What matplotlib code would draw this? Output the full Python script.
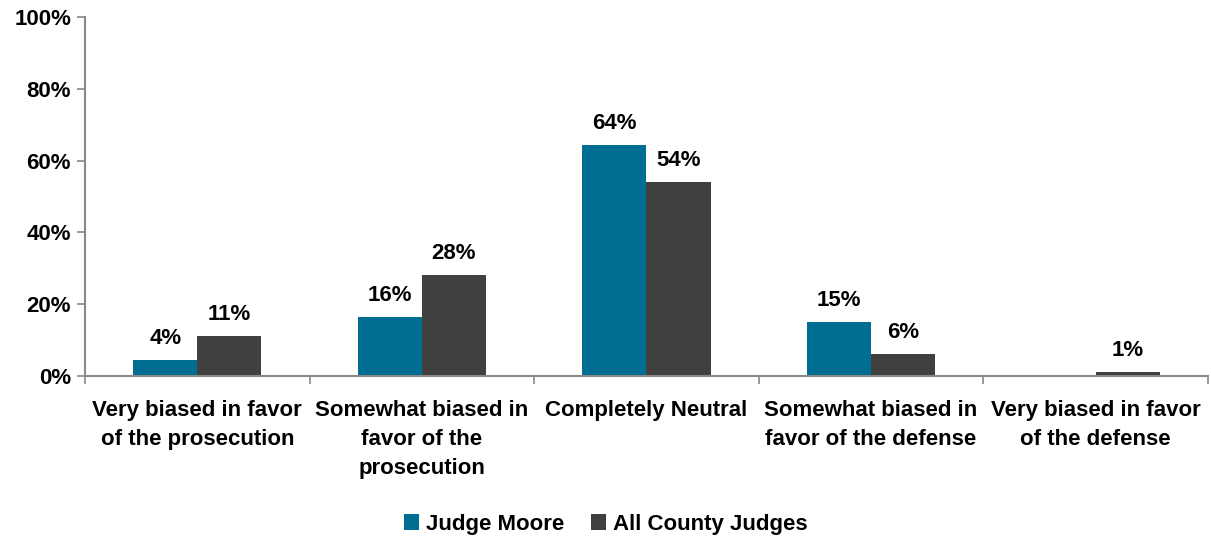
import numpy as np
import matplotlib
matplotlib.use("Agg")
import matplotlib.pyplot as plt
from matplotlib.ticker import FuncFormatter

plt.rcParams['font.family'] = ['Liberation Sans', 'DejaVu Sans']
plt.rcParams['font.weight'] = 'bold'

categories = [
    "Very biased in favor\nof the prosecution",
    "Somewhat biased in\nfavor of the\nprosecution",
    "Completely Neutral",
    "Somewhat biased in\nfavor of the defense",
    "Very biased in favor\nof the defense",
]
judge_moore = [4.4, 16.4, 64.2, 15.0, 0.0]
judge_moore_lbl = ["4%", "16%", "64%", "15%", ""]
all_county = [11.0, 28.0, 54.0, 6.0, 1.0]
all_county_lbl = ["11%", "28%", "54%", "6%", "1%"]

c_moore = "#006D92"
c_county = "#404040"

fig = plt.figure(figsize=(12.11, 5.44), dpi=100)
ax = fig.add_axes([0.0702, 0.309, 0.9273, 0.6598])

x = np.arange(len(categories))
w = 0.285
b1 = ax.bar(x - w / 2, judge_moore, w, color=c_moore, label="Judge Moore")
b2 = ax.bar(x + w / 2, all_county, w, color=c_county, label="All County Judges")

for bars, labels in ((b1, judge_moore_lbl), (b2, all_county_lbl)):
    for rect, lbl in zip(bars, labels):
        if not lbl:
            continue
        ax.annotate(lbl, (rect.get_x() + rect.get_width() / 2, rect.get_height()),
                    xytext=(0, 8), textcoords="offset points",
                    ha="center", va="bottom", fontsize=16, fontweight="bold")

ax.set_xlim(-0.5, len(categories) - 0.5)
ax.set_ylim(0, 100)
ax.set_yticks(np.arange(0, 101, 20))
ax.yaxis.set_major_formatter(FuncFormatter(lambda v, p: f"{v:.0f}%"))

# category labels centred, tick marks on the boundaries
ax.set_xticks(x)
ax.set_xticklabels(categories, fontsize=16, fontweight="bold", linespacing=1.5)
ax.tick_params(axis="x", which="major", length=0, pad=17)
ax.set_xticks(np.arange(-0.5, len(categories) + 0.5, 1), minor=True)
ax.tick_params(axis="x", which="minor", length=6, width=1.2, color="#898989", direction="out")
ax.tick_params(axis="y", length=6, width=1.2, color="#898989", direction="out",
               labelsize=16, pad=4)
for t in ax.get_yticklabels():
    t.set_fontweight("bold")

for s in ("top", "right"):
    ax.spines[s].set_visible(False)
for s in ("left", "bottom"):
    ax.spines[s].set_color("#898989")
    ax.spines[s].set_linewidth(1.5)

fig.legend(handles=[b1, b2], loc="center", bbox_to_anchor=(0.5, 0.036), ncol=2,
           frameon=False, prop={"size": 16, "weight": "bold"},
           handlelength=0.7, handleheight=0.7, handletextpad=0.3, columnspacing=1.2)

fig.savefig("out.png", dpi=100)
